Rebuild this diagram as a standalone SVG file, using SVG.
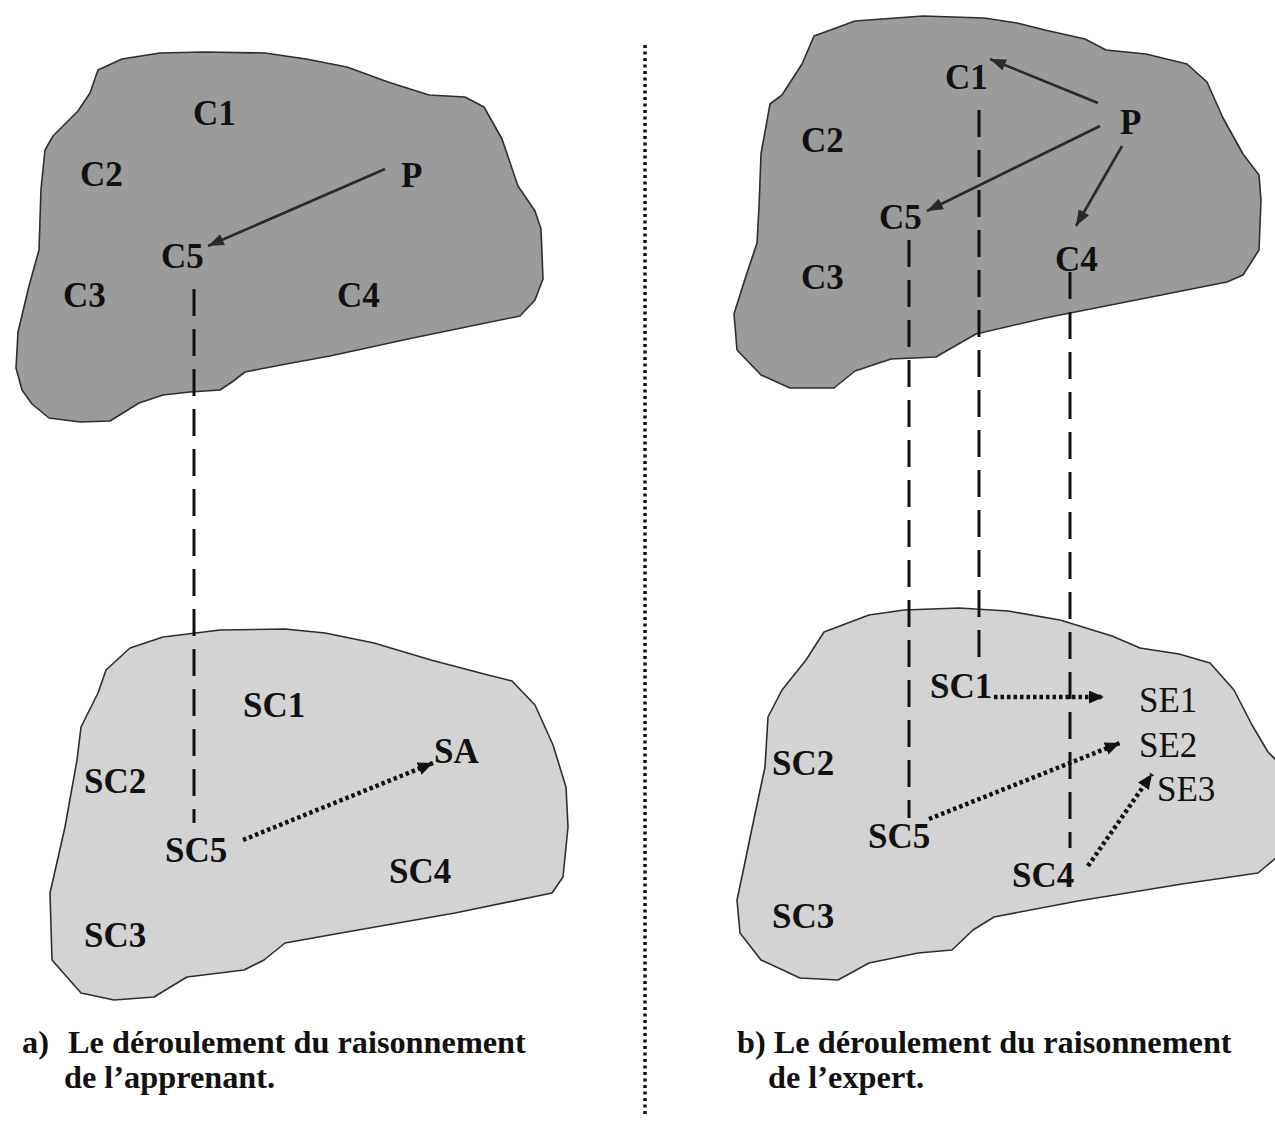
<svg xmlns="http://www.w3.org/2000/svg" width="1275" height="1123" viewBox="0 0 1275 1123">
  <style>
    .dark { fill: #9b9b9b; stroke: #2e2e2e; stroke-width: 1.6; stroke-linejoin: round; }
    .light { fill: #d3d3d3; stroke: #2e2e2e; stroke-width: 1.6; stroke-linejoin: round; }
    .lbl { font-family: "Liberation Serif", "Times New Roman", serif; font-size: 35px; font-weight: bold; fill: #111; }
    .lblr { font-family: "Liberation Serif", "Times New Roman", serif; font-size: 35px; font-weight: normal; fill: #111; }
    .cap { font-family: "Liberation Serif", "Times New Roman", serif; font-size: 32.3px; font-weight: bold; fill: #111; }
    .dash { fill: none; stroke: #111; stroke-width: 3; stroke-dasharray: 27 13; }
    .solid { fill: none; stroke: #2a2a2a; stroke-width: 2.6; marker-end: url(#solidHead); }
    .dots { fill: none; stroke: #111; stroke-width: 4.5; stroke-dasharray: 3.5 3; marker-end: url(#dotHead); }
    .divider { fill: none; stroke: #111; stroke-width: 3.5; stroke-dasharray: 3 3.5; }
  </style>
  <defs>
    <marker id="solidHead" viewBox="0 0 16 12" refX="16" refY="6" markerWidth="16" markerHeight="12" markerUnits="userSpaceOnUse" orient="auto">
      <path d="M0,0 L16,6 L0,12 z" fill="#2a2a2a"/>
    </marker>
    <marker id="dotHead" viewBox="0 0 15 13" refX="15" refY="6.5" markerWidth="15" markerHeight="13" markerUnits="userSpaceOnUse" orient="auto">
      <path d="M0,0 L15,6.5 L0,13 z" fill="#111"/>
    </marker>
  </defs>

  <rect width="1275" height="1123" fill="#ffffff"/>

  <!-- concept spaces (upper) and situation spaces (lower) -->
  <g id="space-a-concepts">
    <path class="dark" d="M98,70 L122,59 L160,53 L204,52 L265,53 L306,59 L347,67 L388,82 L429,95 L465,97 L484,107 L502,139 L518,186 L535,211 L541,229 L543,279 L535,300 L520,316 L408,339 L330,356 L286,364 L245,372 L232,382 L220,390 L190,392 L163,395 L139,403 L110,421 L80,422 L49,418 L32,404 L22,390 L16,368 L18,332 L29,286 L39,250 L41,189 L45,150 L53,136 L78,111 L90,93 Z"/>
  </g>
  <g id="space-a-situations">
    <path class="light" d="M130,648 L163,637 L220,630 L285,629 L325,633 L374,643 L431,660 L488,675 L512,681 L535,705 L553,745 L566,787 L568,827 L563,877 L552,893 L455,913 L341,933 L285,943 L264,960 L244,970 L187,977 L154,997 L114,1000 L81,993 L52,960 L50,893 L65,827 L77,760 L81,727 L98,693 L106,670 Z"/>
  </g>
  <g id="space-b-concepts">
    <path class="dark" d="M814,36 L855,21 L923,16 L984,18 L1017,23 L1045,30 L1085,39 L1106,50 L1146,54 L1187,64 L1207,82 L1223,118 L1243,154 L1259,175 L1261,200 L1259,250 L1243,275 L1227,282 L1045,318 L976,334 L948,350 L936,357 L891,359 L855,371 L834,388 L790,388 L761,375 L737,350 L734,314 L745,279 L757,243 L759,207 L761,154 L770,104 L782,95 L802,64 Z"/>
  </g>
  <g id="space-b-situations">
    <path class="light" d="M824,632 L869,615 L904,610 L959,608 L1008,611 L1060,620 L1112,636 L1140,648 L1179,654 L1210,663 L1234,690 L1252,725 L1268,752 L1276,760 L1276,858 L1258,873 L1182,884 L1078,901 L994,917 L973,930 L952,950 L918,953 L869,963 L838,980 L800,978 L761,960 L740,933 L737,900 L744,867 L751,833 L758,800 L765,767 L768,717 L782,690 L806,660 Z"/>
  </g>

  <!-- separator between the two panels -->
  <line class="divider" x1="645" y1="45" x2="645" y2="1115"/>

  <!-- connectors -->
  <g id="connectors">
    <line class="dash" x1="194" y1="289" x2="194" y2="823"/>
    <line class="dash" x1="909" y1="240" x2="909" y2="818"/>
    <line class="dash" x1="979" y1="110" x2="979" y2="660"/>
    <line class="dash" x1="1070" y1="272" x2="1070" y2="848"/>

    <line class="solid" x1="385" y1="169" x2="208" y2="246"/>
    <line class="solid" x1="1098" y1="103" x2="990" y2="59"/>
    <line class="solid" x1="1100" y1="126" x2="927" y2="211"/>
    <line class="solid" x1="1122" y1="146" x2="1076" y2="226"/>

    <line class="dots" x1="243" y1="840" x2="433" y2="763"/>
    <line class="dots" x1="994" y1="697" x2="1104" y2="697"/>
    <line class="dots" x1="929" y1="819" x2="1120" y2="743"/>
    <line class="dots" x1="1088" y1="866" x2="1152" y2="774"/>
  </g>

  <!-- panel a: concepts -->
  <g id="a-C1"><text class="lbl" x="193" y="125">C1</text></g>
  <g id="a-C2"><text class="lbl" x="80" y="186">C2</text></g>
  <g id="a-P"><text class="lbl" x="401" y="187">P</text></g>
  <g id="a-C5"><text class="lbl" x="161" y="268">C5</text></g>
  <g id="a-C3"><text class="lbl" x="63" y="307">C3</text></g>
  <g id="a-C4"><text class="lbl" x="337" y="307">C4</text></g>

  <!-- panel a: situations -->
  <g id="a-SC1"><text class="lbl" x="243" y="717">SC1</text></g>
  <g id="a-SA"><text class="lbl" x="434" y="763">SA</text></g>
  <g id="a-SC2"><text class="lbl" x="84" y="793">SC2</text></g>
  <g id="a-SC5"><text class="lbl" x="165" y="862">SC5</text></g>
  <g id="a-SC4"><text class="lbl" x="389" y="883">SC4</text></g>
  <g id="a-SC3"><text class="lbl" x="84" y="947">SC3</text></g>

  <!-- panel b: concepts -->
  <g id="b-C1"><text class="lbl" x="945" y="89">C1</text></g>
  <g id="b-C2"><text class="lbl" x="801" y="152">C2</text></g>
  <g id="b-P"><text class="lbl" x="1120" y="134">P</text></g>
  <g id="b-C5"><text class="lbl" x="879" y="229">C5</text></g>
  <g id="b-C3"><text class="lbl" x="801" y="289">C3</text></g>
  <g id="b-C4"><text class="lbl" x="1055" y="271">C4</text></g>

  <!-- panel b: situations -->
  <g id="b-SC1"><text class="lbl" x="930" y="698">SC1</text></g>
  <g id="b-SE1"><text class="lblr" x="1139" y="712">SE1</text></g>
  <g id="b-SE2"><text class="lblr" x="1139" y="757">SE2</text></g>
  <g id="b-SE3"><text class="lblr" x="1157" y="801">SE3</text></g>
  <g id="b-SC2"><text class="lbl" x="772" y="775">SC2</text></g>
  <g id="b-SC5"><text class="lbl" x="868" y="848">SC5</text></g>
  <g id="b-SC4"><text class="lbl" x="1012" y="887">SC4</text></g>
  <g id="b-SC3"><text class="lbl" x="772" y="928">SC3</text></g>

  <!-- captions -->
  <g id="caption-a">
    <text class="cap" y="1053"><tspan x="22">a)</tspan><tspan x="68">Le déroulement du raisonnement</tspan></text>
    <text class="cap" x="64" y="1088">de l’apprenant.</text>
  </g>
  <g id="caption-b">
    <text class="cap" x="737" y="1053">b) Le déroulement du raisonnement</text>
    <text class="cap" x="768" y="1088">de l’expert.</text>
  </g>
</svg>
